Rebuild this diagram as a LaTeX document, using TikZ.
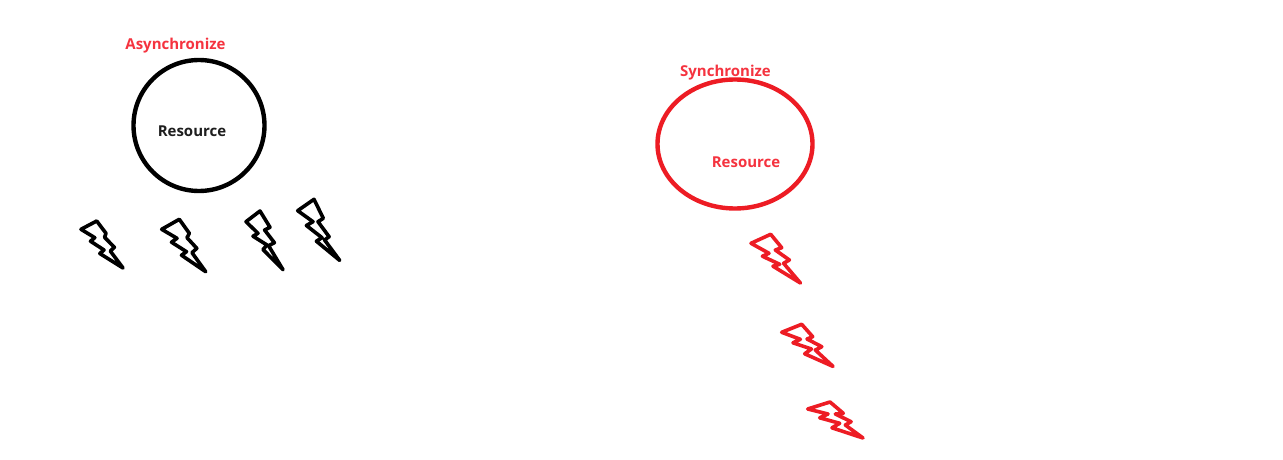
\documentclass[tikz,border=0pt]{standalone}
\usepackage{fontspec}
\setmainfont{Open Sans}
\definecolor{boltred}{HTML}{ED1C24}
\definecolor{labelred}{HTML}{F5333F}
\definecolor{labeldark}{HTML}{1E1E1E}
\tikzset{
  blackring/.style={draw=black,line width=4.4pt},
  redring/.style={draw=boltred,line width=4.4pt},
  blackbolt/.style={draw=black,line width=3.6pt,line join=round,line cap=round},
  redbolt/.style={draw=boltred,line width=3.6pt,line join=round,line cap=round},
  redlabel/.style={text=labelred,font=\bfseries\fontsize{15}{18}\selectfont,inner sep=0pt},
  darklabel/.style={text=labeldark,font=\bfseries\fontsize{15}{18}\selectfont,inner sep=0pt},
  redreslabel/.style={redlabel}
}
\begin{document}
\begin{tikzpicture}[x=1pt,y=-1pt]
\useasboundingbox (0,0) rectangle (1283,460);
\fill[white] (0,0) rectangle (1283,460);
\draw[blackring] (199,125.5) ellipse [x radius=65.5,y radius=65.5];
\draw[redring] (735,144) ellipse [x radius=77.5,y radius=64.5];
\node[redlabel] (asynctitle) at (175.5,46) {Asynchronize};
\node[darklabel] (res1) at (192,131) {Resource};
\node[redlabel] (synctitle) at (725.5,73) {Synchronize};
\node[redreslabel] (res2) at (746,162) {Resource};
\draw[blackbolt] (81,229.3)--(96.7,221)--(106,233.3)--(104.6,237.3)--(114.4,247.3)--(110.3,251)--(123,268)--(99.8,253.5)--(104,250)--(90.5,241.2)--(94.8,237.7)--cycle;
\draw[blackbolt] (161.7,229.3)--(179.3,219.3)--(189.3,233.3)--(187,237.7)--(196.8,248.3)--(192,252.7)--(205.7,271.7)--(181.5,255.2)--(186.5,251.7)--(171.5,242.2)--(177,238.3)--cycle;
\draw[blackbolt] (246,221.7)--(260,211)--(270,227.3)--(264.6,230)--(274.4,242.7)--(268.6,245.7)--(283,269.7)--(263,249.5)--(267,245)--(253,236.2)--(258,233.3)--cycle;
\draw[blackbolt] (297.7,210.7)--(314,199.3)--(323.3,218.3)--(318,221.7)--(329.1,236.7)--(324.6,240)--(339.7,260.4)--(316.4,241.2)--(322,237.7)--(306.4,225.5)--(313,221.7)--cycle;
\draw[redbolt] (751,243.3)--(770.7,234.3)--(781.7,247.7)--(775.3,250)--(789.4,260)--(783.6,263.3)--(800.4,283)--(773,266.2)--(779.7,264.3)--(762.4,256.2)--(769,253.3)--cycle;
\draw[redbolt] (781.7,332.3)--(801.7,324.3)--(812.7,336.7)--(807,339)--(821.8,346.7)--(815.3,350)--(833,366.4)--(804.7,353.8)--(811.4,349)--(793,342.8)--(800.4,339.3)--cycle;
\draw[redbolt] (807.7,409)--(830,402)--(843.3,413.3)--(835.3,414)--(851.1,421.7)--(845.3,425)--(863,438)--(832,427.8)--(839.7,423.3)--(819.7,417.8)--(828,414)--cycle;
\end{tikzpicture}
\end{document}
